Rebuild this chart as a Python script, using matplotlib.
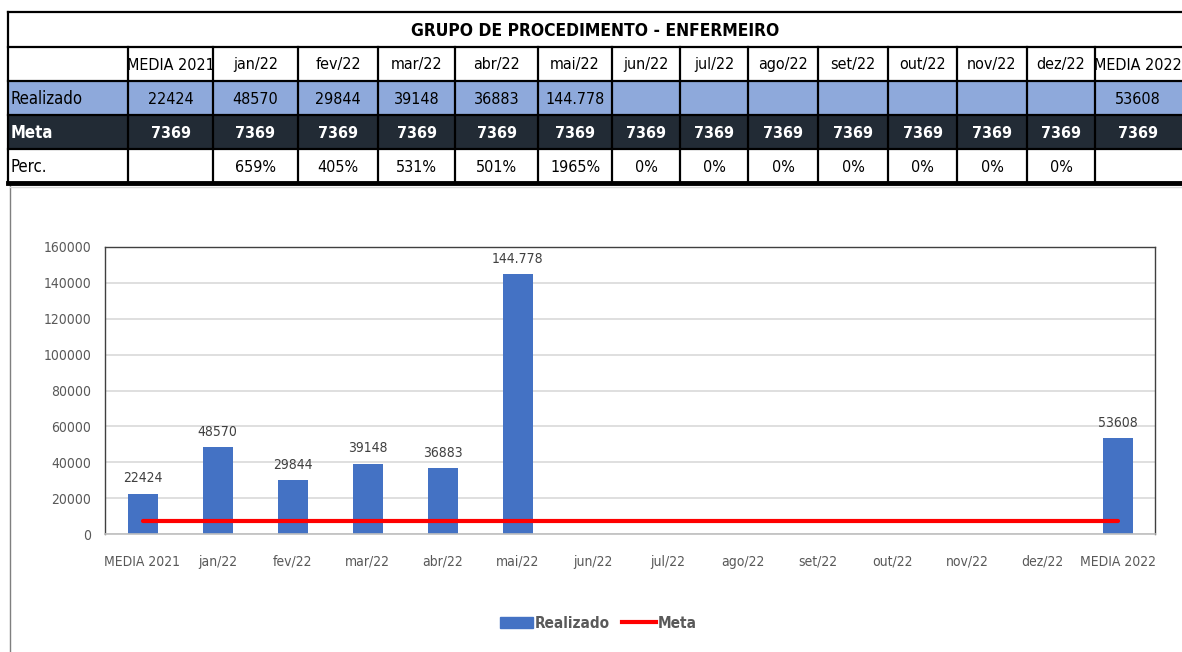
import matplotlib.pyplot as plt
from matplotlib.patches import Rectangle
from matplotlib.lines import Line2D

plt.rcParams['font.family'] = ['DejaVu Sans']
plt.rcParams['font.stretch'] = 'condensed'

# data
categories = ['MEDIA 2021', 'jan/22', 'fev/22', 'mar/22', 'abr/22', 'mai/22', 'jun/22',
              'jul/22', 'ago/22', 'set/22', 'out/22', 'nov/22', 'dez/22', 'MEDIA 2022']
realizado = [22424, 48570, 29844, 39148, 36883, 144778, None, None, None, None, None, None, None, 53608]
realizado_txt = ['22424', '48570', '29844', '39148', '36883', '144.778', '', '', '', '', '', '', '', '53608']
meta = [7369] * 14
perc = ['', '659%', '405%', '531%', '501%', '1965%', '0%', '0%', '0%', '0%', '0%', '0%', '0%', '']
title = 'GRUPO DE PROCEDIMENTO - ENFERMEIRO'

W, H = 1182, 652
fig = plt.figure(figsize=(W / 100, H / 100), dpi=100)

# background axes in pixel coords for the spreadsheet table
bg = fig.add_axes([0, 0, 1, 1])
bg.set_xlim(0, W)
bg.set_ylim(H, 0)
bg.axis('off')

col_x = [8, 128, 213, 298, 378, 455, 538, 612, 680, 748, 818, 888, 957, 1027, 1095, 1190]
row_y = [12, 47, 81, 115, 149, 183]

# chart area frame
bg.plot([10, 10], [185, H], color='#7f7f7f', lw=1)
bg.plot([10, W], [187, 187], color='#d9d9d9', lw=1)

# row fills
bg.add_patch(Rectangle((col_x[0], row_y[2]), col_x[-1] - col_x[0], row_y[3] - row_y[2],
                       facecolor='#8EA9DB', edgecolor='none'))
bg.add_patch(Rectangle((col_x[0], row_y[3]), col_x[-1] - col_x[0], row_y[4] - row_y[3],
                       facecolor='#222B35', edgecolor='none'))

# grid lines
for y in row_y[:-1]:
    bg.plot([col_x[0], W], [y, y], color='black', lw=1.6)
bg.plot([col_x[0], W], [row_y[-1], row_y[-1]], color='black', lw=3.5)
bg.plot([col_x[0], col_x[0]], [row_y[0], row_y[-1]], color='black', lw=1.6)
for x in col_x[1:-1]:
    bg.plot([x, x], [row_y[1], row_y[-1]], color='black', lw=1.6)

fs = 11.5
bg.text((col_x[0] + W) / 2, (row_y[0] + row_y[1]) / 2 + 1, title, ha='center', va='center',
        fontsize=12.5, fontweight='bold')

row_labels = ['Realizado', 'Meta', 'Perc.']
for i, lab in enumerate(row_labels):
    yc = (row_y[i + 2] + row_y[i + 3]) / 2 + 1
    bg.text(col_x[0] + 3, yc, lab, ha='left', va='center', fontsize=fs + 0.5,
            color='white' if lab == 'Meta' else 'black',
            fontweight='bold' if lab == 'Meta' else 'normal')

for j, cat in enumerate(categories):
    xc = (col_x[j + 1] + col_x[j + 2]) / 2
    if j == len(categories) - 1:
        xc = col_x[j + 1] + 43
    bg.text(xc, (row_y[1] + row_y[2]) / 2 + 1, cat, ha='center', va='center', fontsize=fs)
    bg.text(xc, (row_y[2] + row_y[3]) / 2 + 1, realizado_txt[j], ha='center', va='center', fontsize=fs)
    bg.text(xc, (row_y[3] + row_y[4]) / 2 + 1, str(meta[j]), ha='center', va='center', fontsize=fs,
            color='white', fontweight='bold')
    bg.text(xc, (row_y[4] + row_y[5]) / 2 + 1, perc[j], ha='center', va='center', fontsize=fs)

# chart
left, right, top, bottom = 105, 1155, 247, 534
ax = fig.add_axes([left / W, (H - bottom) / H, (right - left) / W, (bottom - top) / H])
x = list(range(len(categories)))
vals = [v if v is not None else 0 for v in realizado]
bars = ax.bar(x, vals, width=0.4, color='#4472C4', label='Realizado', zorder=2)
ax.plot(x, meta, color='#FF0000', lw=3, solid_capstyle='round', label='Meta', zorder=3)

for xi, v, t in zip(x, realizado, realizado_txt):
    if v is not None:
        ax.annotate(t, (xi, v), xytext=(0, 6), textcoords='offset points', ha='center',
                    va='bottom', fontsize=10, color='#404040')

ax.set_xlim(-0.5, len(categories) - 0.5)
ax.set_ylim(0, 160000)
ax.set_yticks(range(0, 160001, 20000))
ax.set_xticks(x)
ax.set_xticklabels(categories)
ax.tick_params(axis='both', length=0, labelsize=10, colors='#595959')
ax.tick_params(axis='x', pad=15)
ax.tick_params(axis='y', pad=10)
ax.grid(axis='y', color='#d9d9d9', lw=1.2, zorder=0)
ax.set_axisbelow(True)
for s in ['left', 'top', 'right']:
    ax.spines[s].set_color('#404040')
    ax.spines[s].set_linewidth(1)
ax.spines['bottom'].set_color('#bfbfbf')
ax.spines['bottom'].set_linewidth(1.2)

handles = [Rectangle((0, 0), 1, 1, color='#4472C4'),
           Line2D([0], [0], color='#FF0000', lw=3)]
leg = fig.legend(handles, ['Realizado', 'Meta'], loc='center', bbox_to_anchor=(598 / W, (H - 623) / H),
                 ncol=2, frameon=False, handlelength=2.2, handletextpad=0.1, columnspacing=0.8,
                 prop={'size': 11, 'weight': 'bold', 'stretch': 'condensed'})
for t in leg.get_texts():
    t.set_color('#595959')

fig.savefig('out.png', dpi=100)
